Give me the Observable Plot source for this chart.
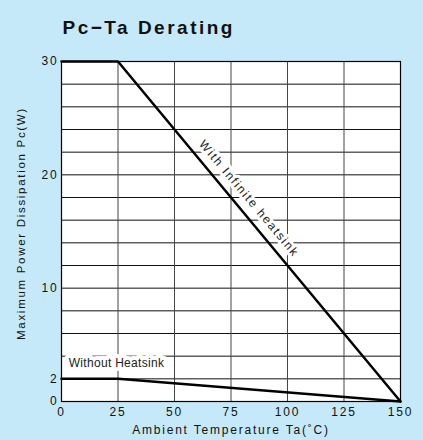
<!DOCTYPE html>
<html>
<head>
<meta charset="utf-8">
<script src="https://cdn.jsdelivr.net/npm/d3@7"></script>
<script src="https://cdn.jsdelivr.net/npm/@observablehq/plot@0.6"></script>
<style>
  html, body { margin: 0; padding: 0; background: #c6e9f9; }
  #chart svg { display: block; background: transparent; }
  #chart svg text { letter-spacing: 1.8px; }
  #chart svg .ttl text { letter-spacing: 2.5px; }
  #chart svg .lblA text { letter-spacing: 0.3px; }
  #chart svg .lblB text { letter-spacing: 1.7px; }
  #chart svg .ylab text { letter-spacing: 1.7px; }
</style>
</head>
<body>
<div id="chart"></div>
<script>
const title = "Pc\u2212Ta Derating";
const xLabel = "Ambient Temperature Ta(\u02DAC)";
const yLabel = "Maximum Power Dissipation Pc(W)";
const xTicks = [0, 25, 50, 75, 100, 125, 150];
const yTicks = [0, 2, 10, 20, 30];
const yGrid = [0, 2, 4, 6, 8, 10, 12, 14, 16, 18, 20, 22, 24, 26, 28, 30];
const withHeatsinkTa = [0, 25, 150];
const withHeatsinkPc = [30, 30, 0];
const withoutHeatsinkTa = [0, 25, 150];
const withoutHeatsinkPc = [2, 2, 0];
const labels = [
  {text: "With Infinite heatsink", x: 83, y: 17.9, rotate: 50},
  {text: "Without Heatsink", x: 3.2, y: 3.35, rotate: 0}
];

const withData = withHeatsinkTa.map((t, i) => ({x: t, y: withHeatsinkPc[i]}));
const withoutData = withoutHeatsinkTa.map((t, i) => ({x: t, y: withoutHeatsinkPc[i]}));

const font = "'Liberation Sans', Arial, sans-serif";

const chart = Plot.plot({
  width: 423,
  height: 440,
  marginLeft: 61,
  marginRight: 23,
  marginTop: 61,
  marginBottom: 39,
  style: {fontFamily: font, fontSize: "12px", background: "transparent", color: "#111"},
  x: {domain: [0, 150], label: null, ticks: xTicks, tickSize: 0, tickPadding: 6},
  y: {domain: [0, 30], label: null, ticks: yTicks, tickSize: 0, tickPadding: 4},
  marks: [
    Plot.frame({fill: "white"}),
    Plot.ruleY(yGrid, {stroke: "#111", strokeWidth: 1}),
    Plot.ruleX(xTicks, {stroke: "#444", strokeWidth: 1}),
    Plot.text(labels.filter(d => d.rotate === 0), {x: "x", y: "y", text: "text", textAnchor: "start", fontSize: 12, fill: "#222", stroke: "white", strokeWidth: 8, className: "lblA"}),
    Plot.line(withoutData, {x: "x", y: "y", stroke: "black", strokeWidth: 2.5}),
    Plot.line(withData, {x: "x", y: "y", stroke: "black", strokeWidth: 2.5}),
    Plot.text(labels.filter(d => d.rotate !== 0), {x: "x", y: "y", text: "text", rotate: 50, fontSize: 12, fill: "#222", stroke: "white", strokeWidth: 6, className: "lblB"}),
    Plot.frame({stroke: "black", strokeWidth: 1.2}),
    Plot.axisX({ticks: xTicks, tickSize: 0, tickPadding: 6, label: null, fontSize: 12, fill: "#111"}),
    Plot.axisY({ticks: yTicks, tickSize: 0, tickPadding: 3, label: null, fontSize: 12, fill: "#111"}),
    Plot.text([xLabel], {frameAnchor: "bottom", textAnchor: "middle", dy: 32, fontSize: 12, fill: "#111"}),
    Plot.text([yLabel], {frameAnchor: "left", textAnchor: "middle", dx: -40, dy: -8, rotate: -90, fontSize: 11.5, fill: "#111", className: "ylab"}),
    Plot.text([title], {frameAnchor: "top-left", textAnchor: "start", dx: 1, dy: -41, fontSize: 19, fontWeight: "bold", fill: "#111", className: "ttl"})
  ]
});
document.getElementById("chart").appendChild(chart);
</script>
</body>
</html>
